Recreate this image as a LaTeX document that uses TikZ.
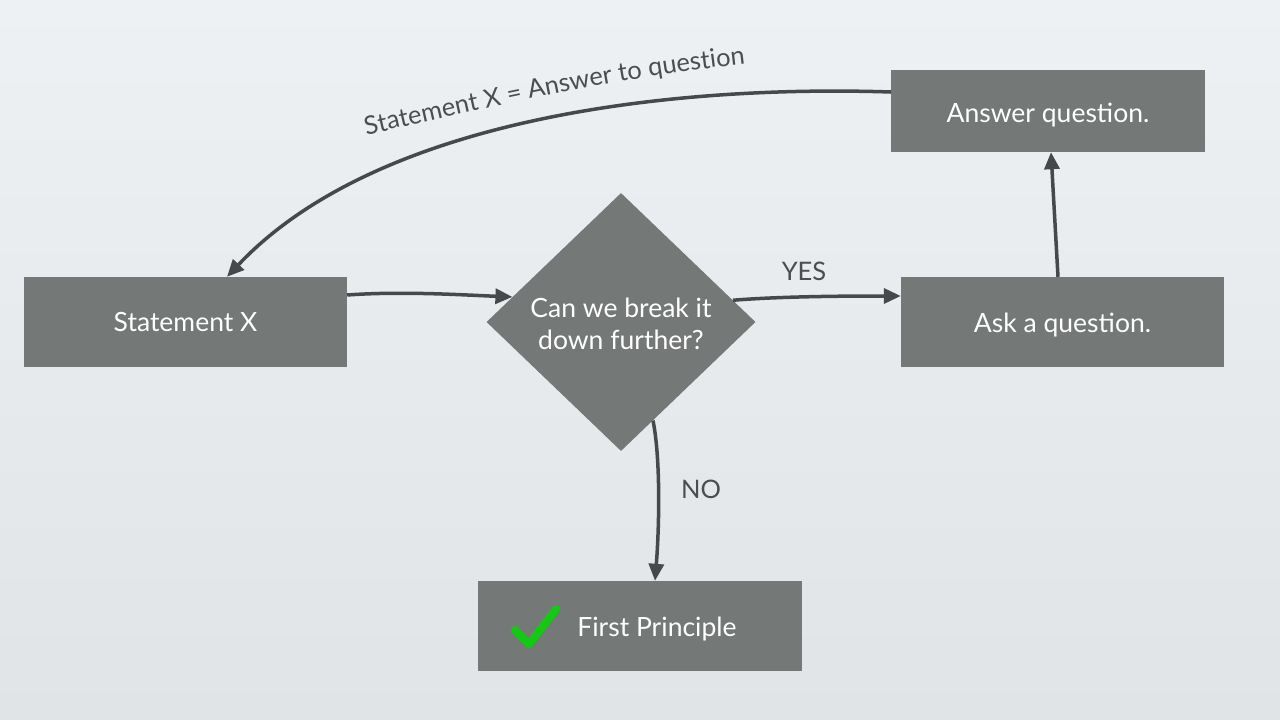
\documentclass[tikz,border=0pt]{standalone}
\usepackage{fontspec}
\setmainfont{Lato}
\usetikzlibrary{shapes.geometric,arrows.meta,decorations.text,calc}
\definecolor{boxgray}{HTML}{747876}
\definecolor{arrowgray}{HTML}{46494A}
\definecolor{labelgray}{HTML}{4B4E50}
\definecolor{bgtop}{HTML}{EEF1F4}
\definecolor{bgbot}{HTML}{E1E4E7}
\definecolor{checkgreen}{HTML}{14C814}
\newcommand\lblfont{\fontsize{25.5}{30}\selectfont}
\newcommand\boxfont{\fontsize{26.5}{31}\selectfont}
\begin{document}
\begin{tikzpicture}[x=1pt,y=-1pt,
  box/.style={fill=boxgray, inner sep=0pt},
  boxtext/.style={text=white, font=\boxfont, inner sep=0pt, text height=19pt, text depth=0pt},
  arr/.style={draw=arrowgray, line width=3.5pt, -{Triangle[length=17pt,width=15pt]}},
  lbl/.style={text=labelgray, font=\lblfont}]
\shade[top color=bgtop,bottom color=bgbot] (0,0) rectangle (1280,720);
\useasboundingbox (0,0) rectangle (1280,720);

\node[box, minimum width=323pt, minimum height=90pt] (sx) at (185.5,322) {};
\node[boxtext] (sxtext) at (185.5,322) {Statement X};
\node[box, diamond, minimum width=269pt, minimum height=258pt] (dm) at (621,322) {};
\node[text=white, font=\fontsize{26.5}{32}\selectfont, align=center, inner sep=0pt] (dmtext) at (621,324) {Can we break it\\down further?};
\node[box, minimum width=323pt, minimum height=90pt] (ask) at (1062.5,322) {};
\node[boxtext] (asktext) at (1062.5,323) {Ask a question.};
\node[box, minimum width=314pt, minimum height=82pt] (ans) at (1048,111) {};
\node[boxtext] (anstext) at (1048,113) {Answer question.};
\node[box, minimum width=324pt, minimum height=90pt] (fp) at (640,626) {};
\node[boxtext] (fptext) at (657,627) {First Principle};
\draw[checkgreen, line width=8pt, line cap=round, line join=round] (515,630) -- (529,644) -- (556,609);

\node[lbl] (yes) at (804,271) {YES};
\node[lbl] (no) at (701,489) {NO};

\draw[arr] (sx.east |- 0,295) .. controls +(55,-4) and +(-50,-2) .. (dm.167.6);
\draw[arr] (dm.11.4) .. controls +(50,-4) and +(-50,0) .. (ask.west |- 0,296);
\draw[arr] ([xshift=-4.5pt]ask.north) -- ([xshift=3pt]ans.south);
\draw[arr] (dm.288.1) .. controls +(8,40) and +(4,-50) .. ([xshift=15pt]fp.north);
\draw[arr] (ans.west |- 0,92) .. controls (680,85) and (380,115) .. ([xshift=41.5pt]sx.north);

\path[decorate, decoration={text along path,
   text={|\lblfont\color{labelgray}|Statement X = Answer to question},
   text align=center}]
   (350,139) .. controls (470,111) and (620,76) .. (762,62);
\end{tikzpicture}
\end{document}
